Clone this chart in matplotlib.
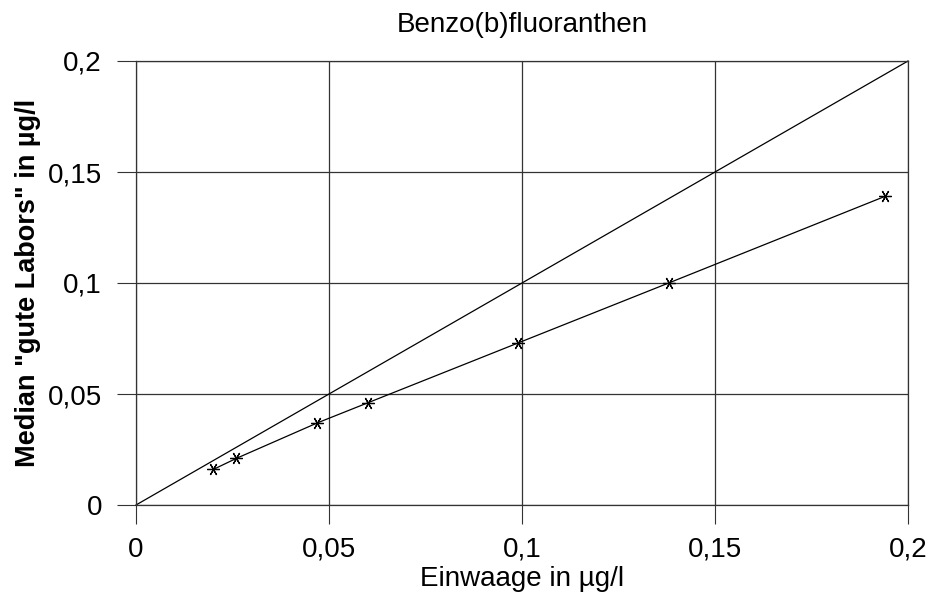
import matplotlib
matplotlib.use("Agg")
import matplotlib.pyplot as plt
from matplotlib.ticker import FixedLocator

plt.rcParams['font.family'] = ['Liberation Sans', 'DejaVu Sans']

einwaage = [0.020, 0.026, 0.047, 0.060, 0.099, 0.138, 0.194]
median = [0.016, 0.021, 0.037, 0.046, 0.073, 0.100, 0.139]
ideal_x = [0.0, 0.2]
ideal_y = [0.0, 0.2]
ticks = [0, 0.05, 0.1, 0.15, 0.2]
tick_labels = ["0", "0,05", "0,1", "0,15", "0,2"]

fig = plt.figure(figsize=(9.33, 6.09), dpi=100)
ax = fig.add_axes([136/933, 1-505/609, (908-136)/933, (505-61)/609])

ax.set_xlim(0, 0.2)
ax.set_ylim(0, 0.2)
ax.xaxis.set_major_locator(FixedLocator(ticks))
ax.yaxis.set_major_locator(FixedLocator(ticks))
ax.set_xticklabels(tick_labels, fontsize=20)
ax.set_yticklabels(tick_labels, fontsize=20)
ax.tick_params(axis='both', direction='out', length=13.5, width=0.8, color='#333333')
ax.tick_params(axis='x', pad=9.5)
ax.tick_params(axis='y', pad=11)
ax.grid(True, color='#333333', linewidth=0.9)
ax.set_axisbelow(True)
for s in ax.spines.values():
    s.set_linewidth(0.9)
    s.set_color('#333333')

ax.plot(ideal_x, ideal_y, color='black', linewidth=0.9, clip_on=False)
ax.plot(einwaage, median, color='black', linewidth=0.9,
        marker=(6, 2, 90), markersize=9, markeredgewidth=0.9, clip_on=False)

ax.set_title("Benzo(b)fluoranthen", fontsize=20, pad=21)
ax.set_xlabel("Einwaage in µg/l", fontsize=20, labelpad=2.5)
ax.set_ylabel('Median "gute Labors" in µg/l', fontsize=19.5, fontweight='bold', labelpad=5)

fig.savefig("out.png", dpi=100)
